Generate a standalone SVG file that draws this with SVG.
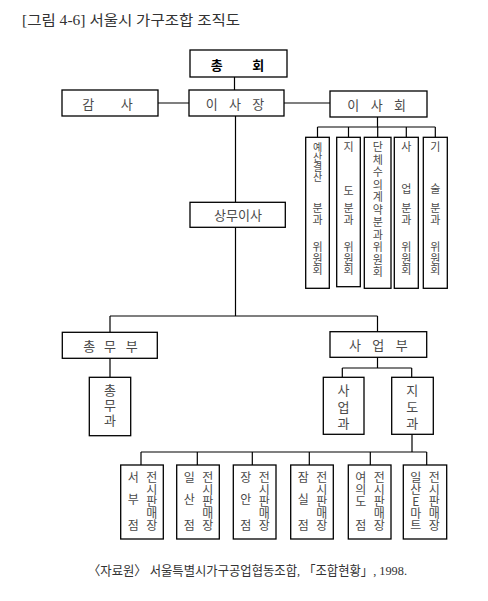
<svg xmlns="http://www.w3.org/2000/svg" width="488" height="601" viewBox="0 0 488 601">
<style>
.bx{fill:#fff;stroke:#000;stroke-width:1.3}
.ln{fill:none;stroke:#000;stroke-width:1.2}
text{font-family:"Noto Sans CJK KR","Noto Sans CJK SC",sans-serif;fill:#4a4a4a;text-anchor:middle;dominant-baseline:central}
.v{writing-mode:vertical-rl;text-orientation:upright;text-anchor:start}
.t13{font-size:13px}
.t12{font-size:12px}
.t11{font-size:11px}
.t10{font-size:10px}
.b{font-weight:bold;fill:#000}
.cap{font-family:"Liberation Serif","Noto Sans CJK KR",serif;text-anchor:start;dominant-baseline:alphabetic;fill:#333}
</style>
<rect width="488" height="601" fill="#fff"/>
<text class="cap" x="22" y="25" font-size="14" textLength="218" lengthAdjust="spacingAndGlyphs">[그림 4-6] 서울시 가구조합 조직도</text>

<g id="connectors">
<path class="ln" d="M234.5 77V90M158 103H189M284 103H330M377.5 117V127M317.5 127H435.3M317.5 127V137M348.5 127V137M377.7 127V137M406.3 127V137M435.3 127V137"/>
<path class="ln" d="M235.5 116V202M235.5 227V316M110 316H377.5M110 316V332M377.5 316V332M110 358V377"/>
<path class="ln" d="M377.5 357V368M342.3 368H411.7M342.3 368V377M411.7 368V377M412 434V452M141 452H426.7M141 452V465M197.3 452V465M252.3 452V465M309.3 452V465M370.3 452V465M426.7 452V465"/>
</g>

<g id="chonghoe"><rect class="bx" x="190" y="50" width="97" height="27"/><text class="t13 b" y="63.5"><tspan x="216.7">총</tspan><tspan x="258.3">회</tspan></text></g>
<g id="gamsa"><rect class="bx" x="62" y="90" width="96" height="26"/><text class="t13" y="103"><tspan x="88.3">감</tspan><tspan x="126.7">사</tspan></text></g>
<g id="isajang"><rect class="bx" x="189" y="90" width="95" height="26"/><text class="t13" y="103"><tspan x="211.7">이</tspan><tspan x="235">사</tspan><tspan x="258.3">장</tspan></text></g>
<g id="isahoe"><rect class="bx" x="330" y="91" width="97" height="26"/><text class="t13" y="104"><tspan x="353.3">이</tspan><tspan x="376.7">사</tspan><tspan x="400">회</tspan></text></g>

<g id="c1"><rect class="bx" x="305.7" y="137.3" width="23.6" height="151"/>
<text class="v t10" x="317.5" y="142">예산결산</text>
<text class="v t11" x="317.5" y="202.5" letter-spacing="1">분과</text>
<text class="v t11" x="317.5" y="241.5" letter-spacing="0.5">위원회</text></g>
<g id="c2"><rect class="bx" x="336.7" y="137.3" width="23.6" height="149.4"/>
<text class="v t11" x="348.5" y="141.5">지</text>
<text class="v t11" x="348.5" y="185.5">도</text>
<text class="v t11" x="348.5" y="202.5" letter-spacing="1">분과</text>
<text class="v t11" x="348.5" y="241.5" letter-spacing="0.5">위원회</text></g>
<g id="c3"><rect class="bx" x="364.3" y="137.3" width="26.7" height="151"/>
<text class="v t11" x="377.7" y="141.5" letter-spacing="1.5">단체수의계약분과위원회</text></g>
<g id="c4"><rect class="bx" x="394.3" y="137.3" width="24" height="151"/>
<text class="v t11" x="406.3" y="141.5">사</text>
<text class="v t11" x="406.3" y="183.5">업</text>
<text class="v t11" x="406.3" y="202.5" letter-spacing="1">분과</text>
<text class="v t11" x="406.3" y="241.5" letter-spacing="0.5">위원회</text></g>
<g id="c5"><rect class="bx" x="423.3" y="137.3" width="24" height="151"/>
<text class="v t11" x="435.3" y="141.5">기</text>
<text class="v t11" x="435.3" y="183.5">술</text>
<text class="v t11" x="435.3" y="202.5" letter-spacing="1">분과</text>
<text class="v t11" x="435.3" y="241.5" letter-spacing="0.5">위원회</text></g>

<g id="sangmu"><rect class="bx" x="190" y="202.3" width="95.3" height="25"/><text class="t13" x="238" y="214.5">상무이사</text></g>
<g id="chongmubu"><rect class="bx" x="62.3" y="332.3" width="95" height="26"/><text class="t13" y="345"><tspan x="89.3">총</tspan><tspan x="110">무</tspan><tspan x="131.7">부</tspan></text></g>
<g id="saeopbu"><rect class="bx" x="330" y="331.7" width="96.7" height="25.6"/><text class="t13" y="344"><tspan x="355">사</tspan><tspan x="378.3">업</tspan><tspan x="401.7">부</tspan></text></g>
<g id="chongmugwa"><rect class="bx" x="89.3" y="377.3" width="41.4" height="58.4"/><text class="v t13" x="110" y="384" letter-spacing="1.6">총무과</text></g>
<g id="saeopgwa"><rect class="bx" x="323.3" y="377.3" width="40.7" height="57"/><text class="v t13" x="343.5" y="383.5" letter-spacing="3.7">사업과</text></g>
<g id="jidogwa"><rect class="bx" x="391.7" y="377.3" width="41.6" height="57"/><text class="v t13" x="412.3" y="383.5" letter-spacing="3.7">지도과</text></g>

<g id="s1"><rect class="bx" x="120.7" y="465" width="42.6" height="74"/>
<text class="v t12" x="133.2" y="471">서</text><text class="v t12" x="133.2" y="493">부</text><text class="v t12" x="133.2" y="519">점</text>
<text class="v t12" x="151.7" y="471">전시판매장</text></g>
<g id="s2"><rect class="bx" x="176.7" y="465" width="42.6" height="74"/>
<text class="v t12" x="189.2" y="471">일</text><text class="v t12" x="189.2" y="493">산</text><text class="v t12" x="189.2" y="519">점</text>
<text class="v t12" x="207.7" y="471">전시판매장</text></g>
<g id="s3"><rect class="bx" x="233.3" y="465" width="42.7" height="74"/>
<text class="v t12" x="245.8" y="471">장</text><text class="v t12" x="245.8" y="493">안</text><text class="v t12" x="245.8" y="519">점</text>
<text class="v t12" x="264.3" y="471">전시판매장</text></g>
<g id="s4"><rect class="bx" x="290.7" y="465" width="42.6" height="74"/>
<text class="v t12" x="303.2" y="471">잠</text><text class="v t12" x="303.2" y="493">실</text><text class="v t12" x="303.2" y="519">점</text>
<text class="v t12" x="321.7" y="471">전시판매장</text></g>
<g id="s5"><rect class="bx" x="348.3" y="465" width="42.7" height="74"/>
<text class="v t12" x="360.8" y="471">여의도</text><text class="v t12" x="360.8" y="519">점</text>
<text class="v t12" x="379.3" y="471">전시판매장</text></g>
<g id="s6"><rect class="bx" x="403.3" y="465" width="43.4" height="74"/>
<text class="v t12" x="415.8" y="471">일산E마트</text>
<text class="v t12" x="434.3" y="471">전시판매장</text></g>

<text class="cap" x="88" y="575" font-size="13" textLength="319" lengthAdjust="spacingAndGlyphs">〈자료원〉 서울특별시가구공업협동조합, 「조합현황」, 1998.</text>
</svg>
